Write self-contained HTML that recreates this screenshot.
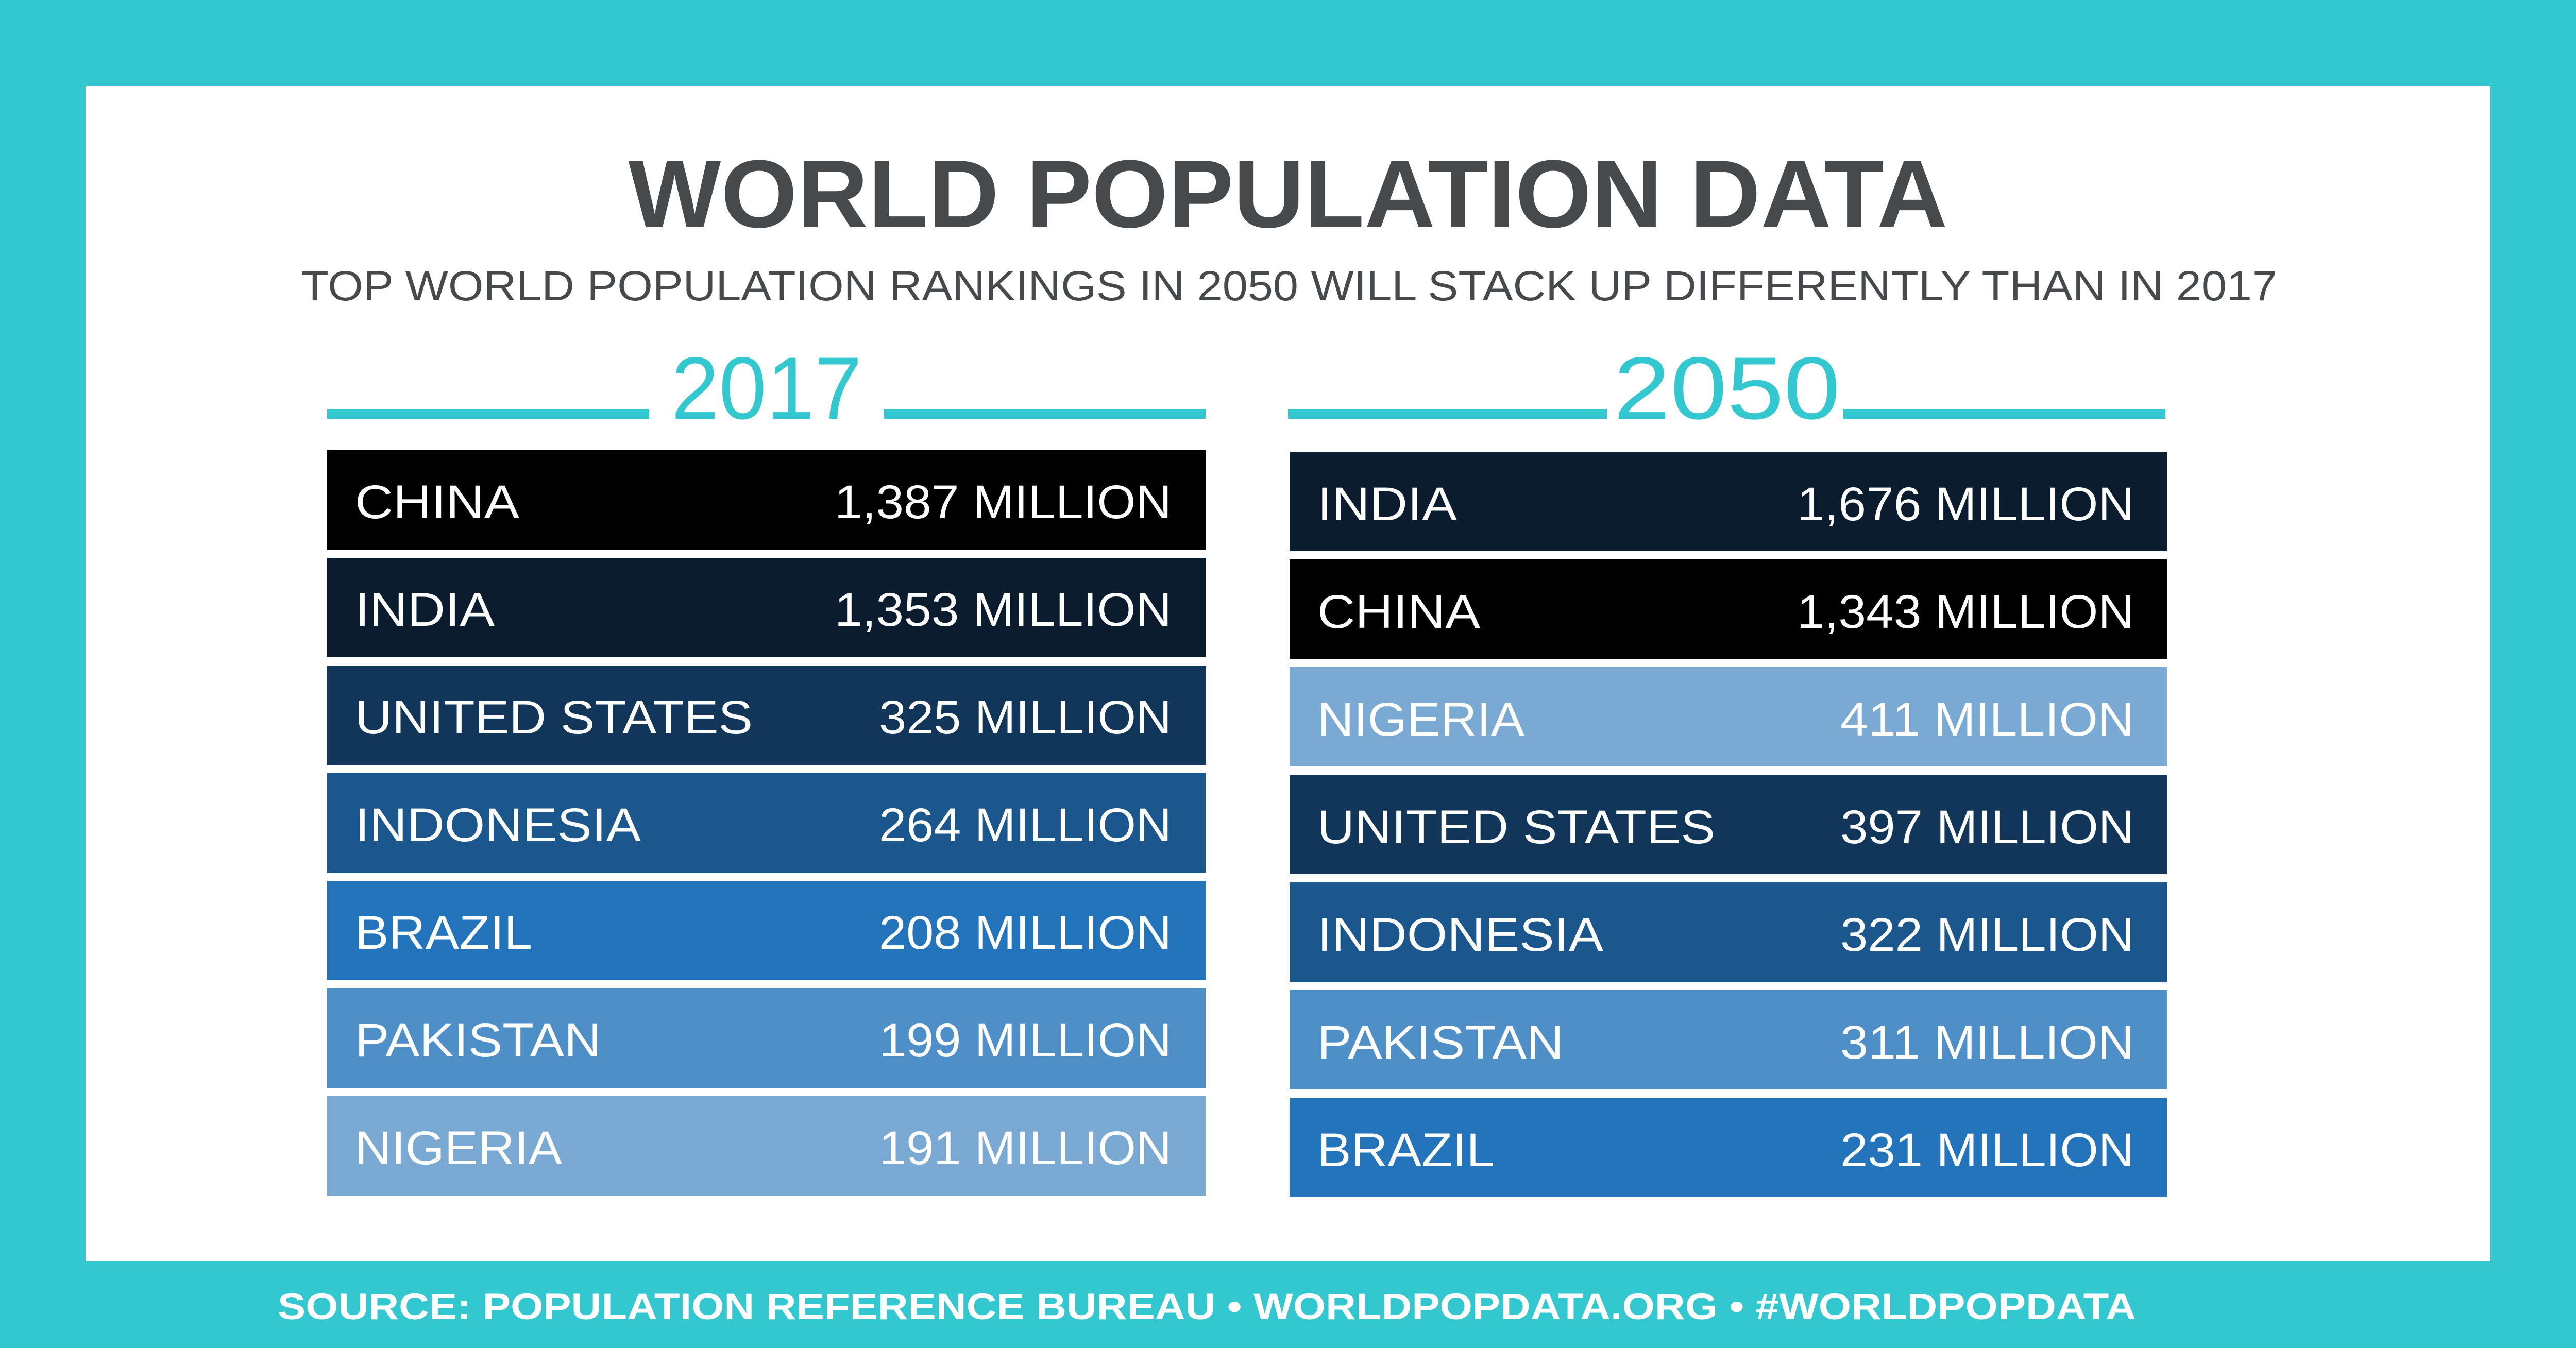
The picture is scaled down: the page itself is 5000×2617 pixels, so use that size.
<!DOCTYPE html>
<html><head><meta charset="utf-8"><style>
html,body{margin:0;padding:0;background:#33c8d0}
svg{display:block}
text{font-family:"Liberation Sans",sans-serif}
.l{fill:#fff;font-size:92px}
</style></head><body>
<svg width="5000" height="2617" viewBox="0 0 5000 2617" xmlns="http://www.w3.org/2000/svg">
<rect width="5000" height="2617" fill="#33c8d0"/>
<rect x="166" y="166" width="4668" height="2283" fill="#fff"/>
<text x="2500" y="441" text-anchor="middle" font-size="187" font-weight="bold" fill="#474a4d" textLength="2561" lengthAdjust="spacingAndGlyphs">WORLD POPULATION DATA</text>
<text x="2502" y="583" text-anchor="middle" font-size="82" fill="#474a4d" textLength="3836" lengthAdjust="spacingAndGlyphs">TOP WORLD POPULATION RANKINGS IN 2050 WILL STACK UP DIFFERENTLY THAN IN 2017</text>
<rect x="635" y="794" width="625" height="19" fill="#33c8d0"/>
<rect x="1716" y="794" width="624" height="19" fill="#33c8d0"/>
<rect x="2500" y="794" width="619" height="19" fill="#33c8d0"/>
<rect x="3578" y="794" width="625" height="19" fill="#33c8d0"/>
<text x="1488" y="813" text-anchor="middle" font-size="172" fill="#33c8d0" textLength="370" lengthAdjust="spacingAndGlyphs">2017</text>
<text x="3352" y="813" text-anchor="middle" font-size="172" fill="#33c8d0" textLength="440" lengthAdjust="spacingAndGlyphs">2050</text>

<g>
<rect x="635" y="874" width="1705" height="193" fill="#000"/>
<rect x="635" y="1083" width="1705" height="193" fill="#0b1c2e"/>
<rect x="635" y="1292" width="1705" height="193" fill="#12355a"/>
<rect x="635" y="1501" width="1705" height="193" fill="#1b568c"/>
<rect x="635" y="1710" width="1705" height="193" fill="#2474bc"/>
<rect x="635" y="1919" width="1705" height="193" fill="#4f8fc8"/>
<rect x="635" y="2128" width="1705" height="193" fill="#7aaad4"/>
<text class="l" x="689" y="1006" textLength="319" lengthAdjust="spacingAndGlyphs">CHINA</text>
<text class="l" x="689" y="1215" textLength="271" lengthAdjust="spacingAndGlyphs">INDIA</text>
<text class="l" x="689" y="1424" textLength="772" lengthAdjust="spacingAndGlyphs">UNITED STATES</text>
<text class="l" x="689" y="1633" textLength="555" lengthAdjust="spacingAndGlyphs">INDONESIA</text>
<text class="l" x="689" y="1842" textLength="344" lengthAdjust="spacingAndGlyphs">BRAZIL</text>
<text class="l" x="689" y="2051" textLength="478" lengthAdjust="spacingAndGlyphs">PAKISTAN</text>
<text class="l" x="689" y="2260" textLength="402" lengthAdjust="spacingAndGlyphs">NIGERIA</text>
<text class="l" x="1620" y="1006" textLength="654" lengthAdjust="spacingAndGlyphs">1,387 MILLION</text>
<text class="l" x="1620" y="1215" textLength="654" lengthAdjust="spacingAndGlyphs">1,353 MILLION</text>
<text class="l" x="1706" y="1424" textLength="568" lengthAdjust="spacingAndGlyphs">325 MILLION</text>
<text class="l" x="1706" y="1633" textLength="568" lengthAdjust="spacingAndGlyphs">264 MILLION</text>
<text class="l" x="1706" y="1842" textLength="568" lengthAdjust="spacingAndGlyphs">208 MILLION</text>
<text class="l" x="1706" y="2051" textLength="568" lengthAdjust="spacingAndGlyphs">199 MILLION</text>
<text class="l" x="1706" y="2260" textLength="568" lengthAdjust="spacingAndGlyphs">191 MILLION</text>
</g>

<g>
<rect x="2503" y="877" width="1703" height="193" fill="#0b1c2e"/>
<rect x="2503" y="1086" width="1703" height="193" fill="#000"/>
<rect x="2503" y="1295" width="1703" height="193" fill="#7aaad4"/>
<rect x="2503" y="1504" width="1703" height="193" fill="#12355a"/>
<rect x="2503" y="1713" width="1703" height="193" fill="#1b568c"/>
<rect x="2503" y="1922" width="1703" height="193" fill="#4f8fc8"/>
<rect x="2503" y="2131" width="1703" height="193" fill="#2474bc"/>
<text class="l" x="2557" y="1010" textLength="271" lengthAdjust="spacingAndGlyphs">INDIA</text>
<text class="l" x="2557" y="1219" textLength="316" lengthAdjust="spacingAndGlyphs">CHINA</text>
<text class="l" x="2557" y="1428" textLength="402" lengthAdjust="spacingAndGlyphs">NIGERIA</text>
<text class="l" x="2557" y="1637" textLength="772" lengthAdjust="spacingAndGlyphs">UNITED STATES</text>
<text class="l" x="2557" y="1846" textLength="555" lengthAdjust="spacingAndGlyphs">INDONESIA</text>
<text class="l" x="2557" y="2055" textLength="478" lengthAdjust="spacingAndGlyphs">PAKISTAN</text>
<text class="l" x="2557" y="2264" textLength="344" lengthAdjust="spacingAndGlyphs">BRAZIL</text>
<text class="l" x="3488" y="1010" textLength="654" lengthAdjust="spacingAndGlyphs">1,676 MILLION</text>
<text class="l" x="3488" y="1219" textLength="654" lengthAdjust="spacingAndGlyphs">1,343 MILLION</text>
<text class="l" x="3572" y="1428" textLength="570" lengthAdjust="spacingAndGlyphs">411 MILLION</text>
<text class="l" x="3572" y="1637" textLength="570" lengthAdjust="spacingAndGlyphs">397 MILLION</text>
<text class="l" x="3572" y="1846" textLength="570" lengthAdjust="spacingAndGlyphs">322 MILLION</text>
<text class="l" x="3572" y="2055" textLength="570" lengthAdjust="spacingAndGlyphs">311 MILLION</text>
<text class="l" x="3572" y="2264" textLength="570" lengthAdjust="spacingAndGlyphs">231 MILLION</text>
</g>

<text x="539" y="2561" font-size="71" font-weight="bold" fill="#fff" textLength="3607" lengthAdjust="spacingAndGlyphs">SOURCE: POPULATION REFERENCE BUREAU • WORLDPOPDATA.ORG • #WORLDPOPDATA</text>
</svg>
</body></html>
